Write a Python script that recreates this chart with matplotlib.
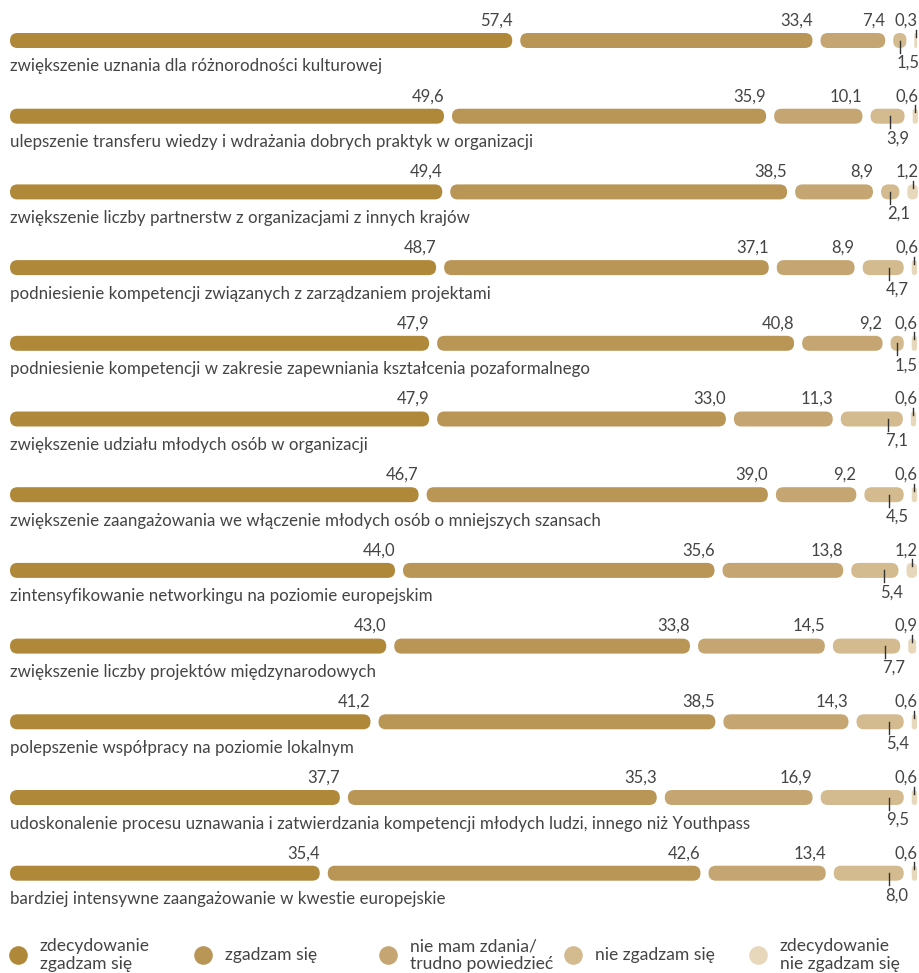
import matplotlib.pyplot as plt
from matplotlib.patches import FancyBboxPatch

# dane
categories = [
    "zwiększenie uznania dla różnorodności kulturowej",
    "ulepszenie transferu wiedzy i wdrażania dobrych praktyk w organizacji",
    "zwiększenie liczby partnerstw z organizacjami z innych krajów",
    "podniesienie kompetencji związanych z zarządzaniem projektami",
    "podniesienie kompetencji w zakresie zapewniania kształcenia pozaformalnego",
    "zwiększenie udziału młodych osób w organizacji",
    "zwiększenie zaangażowania we włączenie młodych osób o mniejszych szansach",
    "zintensyfikowanie networkingu na poziomie europejskim",
    "zwiększenie liczby projektów międzynarodowych",
    "polepszenie współpracy na poziomie lokalnym",
    "udoskonalenie procesu uznawania i zatwierdzania kompetencji młodych ludzi, innego niż Youthpass",
    "bardziej intensywne zaangażowanie w kwestie europejskie",
]
zdecydowanie_tak = [57.4, 49.6, 49.4, 48.7, 47.9, 47.9, 46.7, 44.0, 43.0, 41.2, 37.7, 35.4]
zgadzam = [33.4, 35.9, 38.5, 37.1, 40.8, 33.0, 39.0, 35.6, 33.8, 38.5, 35.3, 42.6]
nie_wiem = [7.4, 10.1, 8.9, 8.9, 9.2, 11.3, 9.2, 13.8, 14.5, 14.3, 16.9, 13.4]
nie_zgadzam = [1.5, 3.9, 2.1, 4.7, 1.5, 7.1, 4.5, 5.4, 7.7, 5.4, 9.5, 8.0]
zdecydowanie_nie = [0.3, 0.6, 1.2, 0.6, 0.6, 0.6, 0.6, 1.2, 0.9, 0.6, 0.6, 0.6]

series = [zdecydowanie_tak, zgadzam, nie_wiem, nie_zgadzam, zdecydowanie_nie]
legend_labels = ["zdecydowanie\nzgadzam się", "zgadzam się", "nie mam zdania/\ntrudno powiedzieć",
                 "nie zgadzam się", "zdecydowanie\nnie zgadzam się"]
colors = ["#b0883a", "#b99556", "#c5a672", "#d3ba8f", "#e7d7bb"]
txt = "#444444"

plt.rcParams['font.family'] = ['Lato', 'DejaVu Sans']

W, H = 919, 973
fig = plt.figure(figsize=(W / 100, H / 100), dpi=100)
ax = fig.add_axes([0, 0, 1, 1])
ax.axis("off")

ppx = 8.75          # piksele na 1%
row = 75.7          # odstęp wierszy w pikselach
x0, y0 = 10, 40.5
ax.set_xlim(-x0 / ppx, (W - x0) / ppx)
ax.set_ylim((H - y0) / row, -y0 / row)

dx = 1 / ppx
dy = 1 / row
gap = 8 * dx
hbar = 15 * dy
hx = 15 * dx
asp = dy / dx
fs_num = 12
fs_cat = 12.2

for i, cat in enumerate(categories):
    left = 0
    for k, s in enumerate(series):
        w = s[i]
        r = min(w, hx) / 2
        ax.add_patch(FancyBboxPatch((left, i - hbar / 2), w, hbar,
                                    boxstyle=f"round,pad=0,rounding_size={r}",
                                    mutation_aspect=asp, fc=colors[k], ec="none"))
        end = left + w
        lab = f"{w:.1f}".replace(".", ",")
        if k < 3:
            ax.text(end, i - 15 * dy, lab, ha="right", va="baseline",
                    fontsize=fs_num, color=txt)
        elif k == 3:
            tx = max(left + w / 2, end - 15 * dx)
            ax.plot([tx, tx], [i, i + 12 * dy], color="#333333", lw=1)
            ax.text(tx - 3 * dx, i + 27 * dy, lab, ha="left", va="baseline",
                    fontsize=fs_num, color=txt)
        else:
            tx = left + w / 2
            ax.plot([tx, tx], [i - 11 * dy, i - 4 * dy], color="#333333", lw=1)
            ax.text(end + 1 * dx, i - 15 * dy, lab, ha="right", va="baseline",
                    fontsize=fs_num, color=txt)
        left = end + gap
    ax.text(0, i + 31 * dy, cat, ha="left", va="baseline",
            fontsize=fs_cat, color=txt)

# legenda
for k, lab in enumerate(legend_labels):
    cx = 18 + k * 185
    ax.scatter([(cx - x0) * dx], [(955 - y0) * dy], s=180, color=colors[k], lw=0)
    ax.text((cx + 22 - x0) * dx, (955 - y0) * dy, lab, ha="left", va="center",
            fontsize=12.6, color=txt, linespacing=1.1)

fig.savefig("out.png", dpi=100)
